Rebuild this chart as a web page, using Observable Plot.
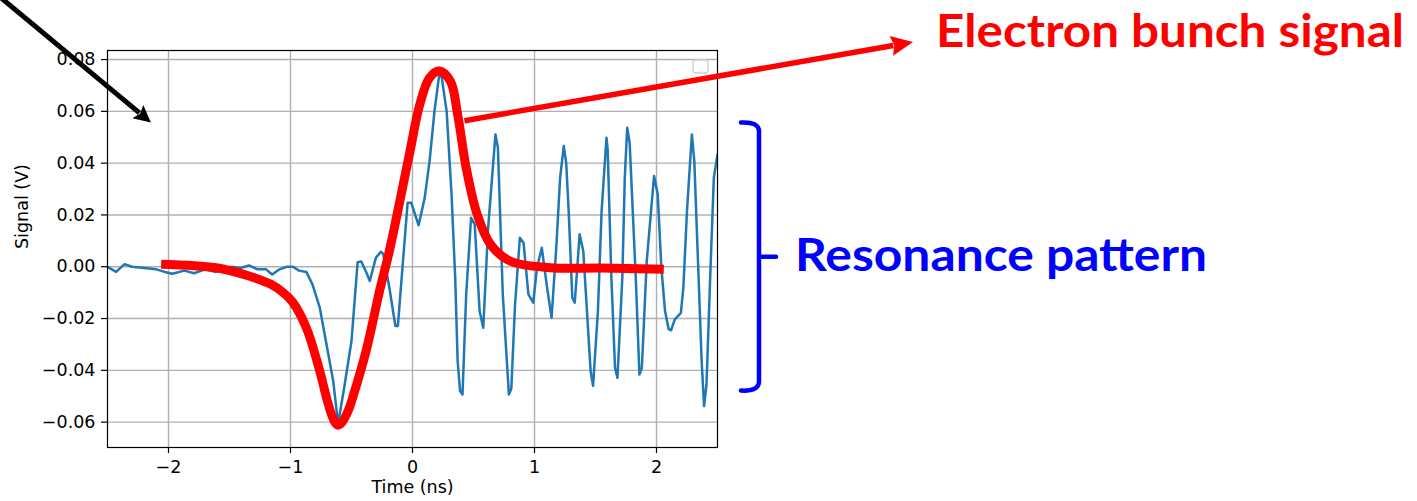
<!DOCTYPE html>
<html>
<head>
<meta charset="utf-8">
<script src="https://cdn.jsdelivr.net/npm/d3@7"></script>
<script src="https://cdn.jsdelivr.net/npm/@observablehq/plot@0.6"></script>
<style>
  html, body { margin: 0; padding: 0; background: #fff; }
  #wrap { position: relative; width: 1417px; height: 501px; overflow: hidden; }
  #notes { position: absolute; left: 0; top: 0; pointer-events: none; }
</style>
</head>
<body>
<div id="wrap"></div>
<script>
// Measured scope trace (time in ns, signal in V)
const timeNs = [-2.50,-2.43,-2.36,-2.30,-2.20,-2.10,-2.03,-1.97,-1.87,-1.79,-1.70,-1.61,-1.54,-1.48,-1.41,-1.34,-1.27,-1.20,-1.15,-1.09,-1.03,-0.98,-0.93,-0.87,-0.82,-0.76,-0.71,-0.65,-0.61,-0.56,-0.50,-0.45,-0.42,-0.38,-0.35,-0.30,-0.26,-0.24,-0.19,-0.14,-0.12,-0.08,-0.04,-0.01,0.05,0.10,0.14,0.18,0.22,0.24,0.28,0.32,0.35,0.37,0.39,0.41,0.44,0.48,0.51,0.55,0.58,0.62,0.68,0.70,0.74,0.79,0.81,0.84,0.88,0.91,0.95,0.99,1.02,1.06,1.10,1.14,1.18,1.21,1.24,1.26,1.28,1.31,1.33,1.37,1.40,1.46,1.48,1.52,1.55,1.59,1.60,1.63,1.66,1.68,1.72,1.74,1.76,1.78,1.83,1.86,1.88,1.92,1.96,1.98,2.01,2.04,2.07,2.10,2.12,2.15,2.20,2.22,2.25,2.29,2.31,2.34,2.37,2.39,2.41,2.44,2.47,2.50];
const signalV = [0.000,-0.002,0.001,0.000,-0.0005,-0.001,-0.002,-0.0027,-0.0015,-0.0025,-0.001,-0.002,-0.0005,0.000,-0.0005,0.0005,-0.001,-0.001,-0.003,-0.001,0.000,0.000,-0.0015,-0.002,-0.0068,-0.0158,-0.0287,-0.0441,-0.0606,-0.0467,-0.0287,0.0017,0.002,-0.002,-0.0055,0.0035,0.0058,0.005,-0.008,-0.0229,-0.0229,0.001,0.0247,0.0247,0.016,0.0266,0.0408,0.060,0.0745,0.073,0.060,0.028,-0.0042,-0.0364,-0.048,-0.0493,-0.0107,0.0189,0.0164,-0.0171,-0.0236,0.015,0.0511,0.046,-0.0107,-0.0493,-0.047,-0.015,0.0112,0.0093,-0.0107,-0.0139,-0.0004,0.0073,-0.007,-0.0197,0.0086,0.0344,0.0466,0.040,0.0215,-0.012,-0.0139,0.0125,0.006,-0.0403,-0.046,-0.017,0.0215,0.0498,0.045,-0.0042,-0.039,-0.0429,-0.004,0.0344,0.0537,0.0479,-0.0042,-0.0416,-0.039,0.0022,0.0241,0.035,0.028,-0.0004,-0.0171,-0.0242,-0.0245,-0.0203,-0.0178,-0.0081,0.0215,0.0511,0.0408,0.0022,-0.0364,-0.0538,-0.0454,-0.0042,0.0344,0.0434];

// Smooth electron bunch profile drawn over the trace
const bunchTimeNs = [-2.06,-1.61,-1.34,-1.16,-1.06,-0.98,-0.87,-0.76,-0.70,-0.66,-0.63,-0.61,-0.59,-0.56,-0.52,-0.49,-0.38,-0.27,-0.19,-0.10,-0.02,0.06,0.14,0.22,0.31,0.37,0.44,0.53,0.64,0.80,1.13,1.54,2.06];
const bunchSignalV = [0.001,-0.0004,-0.0036,-0.0068,-0.0100,-0.0138,-0.0236,-0.0403,-0.0515,-0.0575,-0.0605,-0.0612,-0.0607,-0.0588,-0.0548,-0.0505,-0.0325,-0.0094,0.006,0.0262,0.0447,0.0627,0.073,0.0756,0.0717,0.0588,0.0382,0.0202,0.0086,0.0022,-0.0004,-0.0005,-0.001];

const xTicks = [-2, -1, 0, 1, 2];
const yTicks = [-0.06, -0.04, -0.02, 0, 0.02, 0.04, 0.06, 0.08];
const xLabel = "Time (ns)";
const yLabel = "Signal (V)";
const bunchLabel = "Electron bunch signal";
const resonanceLabel = "Resonance pattern";

const trace = timeNs.map((t, i) => ({t, v: signalV[i]}));
const bunch = bunchTimeNs.map((t, i) => ({t, v: bunchSignalV[i]}));

const chart = Plot.plot({
  width: 1417,
  height: 501,
  marginLeft: 107,
  marginRight: 700,
  marginTop: 50,
  marginBottom: 54,
  style: {fontFamily: "DejaVu Sans", fontSize: "17px", background: "white", color: "black"},
  x: {domain: [-2.5, 2.5]},
  y: {domain: [-0.0698, 0.0835]},
  marks: [
    Plot.gridX(xTicks, {stroke: "#b0b0b0", strokeOpacity: 1, strokeWidth: 1.4}),
    Plot.gridY(yTicks, {stroke: "#b0b0b0", strokeOpacity: 1, strokeWidth: 1.4}),
    Plot.line(trace, {x: "t", y: "v", stroke: "#1f77b4", strokeWidth: 2.5, strokeLinejoin: "round", clip: true}),
    Plot.line(bunch, {x: "t", y: "v", curve: "catmull-rom", stroke: "#ff0000", strokeWidth: 9, strokeLinecap: "butt", strokeLinejoin: "round"}),
    Plot.frame({stroke: "black", strokeWidth: 1.2}),
    Plot.axisX(xTicks, {tickFormat: d3.format("d"), tickSize: 6, tickPadding: 7, fontSize: 17.5, stroke: "black", strokeWidth: 1.2, label: null}),
    Plot.axisY(yTicks, {tickFormat: d3.format(".2f"), tickSize: 6, tickPadding: 6, fontSize: 17.5, stroke: "black", strokeWidth: 1.2, label: null}),
    Plot.text([xLabel], {text: d => d, frameAnchor: "bottom", dy: 45, fontSize: 17.5, fill: "black"}),
    Plot.text([yLabel], {text: d => d, frameAnchor: "left", dx: -85, rotate: -90, fontSize: 17.5, fill: "black"})
  ]
});
const wrap = document.getElementById("wrap");
wrap.append(chart);

// Annotation layer: arrows, bracket and callout labels
const sx = chart.scale("x").apply;
const sy = chart.scale("y").apply;
const notes = d3.select(wrap).append("svg")
  .attr("id", "notes").attr("width", 1417).attr("height", 501);

// empty legend box in the upper-right corner of the axes
notes.append("rect")
  .attr("x", 693).attr("y", 60).attr("width", 15).attr("height", 13).attr("rx", 3)
  .attr("fill", "white").attr("fill-opacity", 0.8).attr("stroke", "#d0d0d0").attr("stroke-width", 1.3);

function arrow(x1, y1, x2, y2, color, width, headLen, headHalf) {
  const dx = x2 - x1, dy = y2 - y1, len = Math.hypot(dx, dy);
  const ux = dx / len, uy = dy / len;
  const bx = x2 - ux * headLen, by = y2 - uy * headLen;
  notes.append("line")
    .attr("x1", x1).attr("y1", y1).attr("x2", bx + ux * 2).attr("y2", by + uy * 2)
    .attr("stroke", color).attr("stroke-width", width);
  notes.append("polygon")
    .attr("points", [[x2, y2], [bx - uy * headHalf, by + ux * headHalf], [bx + ux * 3, by + uy * 3], [bx + uy * headHalf, by - ux * headHalf]].map(p => p.join(",")).join(" "))
    .attr("fill", color);
}

// black pointer into the quiet baseline region
arrow(-6, -8, sx(-2.14), sy(0.0555), "black", 5, 17, 8.5);
// red pointer from the bunch peak to its label
arrow(sx(0.43), sy(0.0562), 913, 42, "#ff0000", 5.5, 22, 10);

notes.append("text")
  .attr("x", 936).attr("y", 47)
  .attr("font-family", "Lato, 'Open Sans', sans-serif").attr("font-weight", 700).attr("font-size", 46)
  .attr("textLength", 468).attr("lengthAdjust", "spacingAndGlyphs")
  .attr("fill", "#ff0000").text(bunchLabel);

// curly bracket spanning the ringing amplitude
const bTop = sy(0.0555), bBot = sy(-0.048), bMid = sy(0.0037);
notes.append("path")
  .attr("d", `M741,${bTop} Q759,${bTop - 1} 759,${bTop + 9} V${bBot - 9} Q759,${bBot + 1} 741,${bBot} M759,${bMid} H776`)
  .attr("fill", "none").attr("stroke", "#0000ff").attr("stroke-width", 4.5)
  .attr("stroke-linecap", "round").attr("stroke-linejoin", "round");

notes.append("text")
  .attr("x", 795).attr("y", 271)
  .attr("font-family", "Lato, 'Open Sans', sans-serif").attr("font-weight", 700).attr("font-size", 45)
  .attr("textLength", 412).attr("lengthAdjust", "spacingAndGlyphs")
  .attr("fill", "#0000ff").text(resonanceLabel);
</script>
</body>
</html>
